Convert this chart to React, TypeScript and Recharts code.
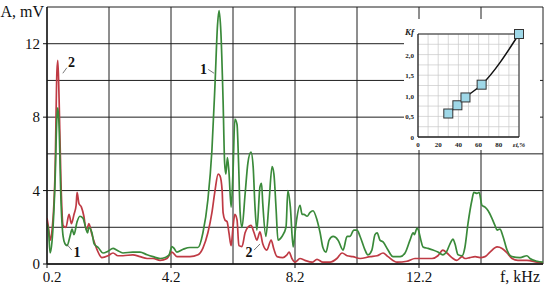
import { CartesianGrid, Line, LineChart, ReferenceDot, ReferenceLine, XAxis, YAxis } from "recharts";

// spectrum 1 (green) – frequency kHz / amplitude mV
const freqGreen = [
  0.2, 0.25, 0.3, 0.36, 0.46, 0.52, 0.55, 0.59, 0.65, 0.72,
  0.78, 0.85, 0.94, 1.01, 1.07, 1.17, 1.26, 1.36, 1.46, 1.51,
  1.55, 1.65, 1.72, 1.85, 2.01, 2.17, 2.33, 2.46, 2.65, 2.97,
  3.2, 3.43, 3.62, 3.85, 4.01, 4.14, 4.23, 4.3, 4.39, 4.59,
  4.81, 5.07, 5.23, 5.39, 5.52, 5.62, 5.7, 5.75, 5.81, 5.88,
  5.93, 5.97, 6.02, 6.07, 6.14, 6.2, 6.26, 6.33, 6.38, 6.43,
  6.49, 6.59, 6.68, 6.78, 6.85, 6.91, 6.97, 7.07, 7.12, 7.16,
  7.26, 7.36, 7.46, 7.52, 7.59, 7.65, 7.78, 7.91, 7.97, 8.05,
  8.14, 8.2, 8.26, 8.36, 8.43, 8.49, 8.59, 8.68, 8.78, 8.91,
  9.01, 9.1, 9.2, 9.3, 9.43, 9.59, 9.75, 9.88, 9.97, 10.1,
  10.2, 10.3, 10.46, 10.55, 10.68, 10.78, 10.85, 10.94, 11.04, 11.2,
  11.36, 11.59, 11.75, 11.91, 12.01, 12.05, 12.14, 12.18, 12.26, 12.33,
  12.49, 12.65, 12.81, 12.97, 13.1, 13.2, 13.3, 13.36, 13.46, 13.59,
  13.68, 13.78, 13.91, 13.97, 14.07, 14.14, 14.23, 14.33, 14.43, 14.55,
  14.65, 14.72, 14.81, 14.91, 15.04, 15.2, 15.46, 15.68, 15.78, 16.01,
  16.2,
];
const ampGreen = [
  2.2, 1.8, 0.6, 1.2, 4.5, 8.0, 8.5, 7.5, 3.5, 1.5,
  1.1, 1.0, 1.5, 1.9, 1.6, 2.3, 2.6, 2.5, 1.9, 1.7,
  2.0, 1.7, 1.1, 0.9, 0.6, 0.7, 0.85, 0.75, 0.6, 0.65,
  0.65, 0.5, 0.4, 0.3, 0.35, 0.5, 0.95, 0.85, 0.65, 0.8,
  0.9, 0.9, 1.7, 3.5, 6.2, 9.8, 13.0, 13.8, 12.6, 8.9,
  5.5, 4.9, 5.8, 5.0, 3.1, 5.0, 7.9, 7.6, 5.5, 2.8,
  2.0, 3.8, 5.5, 6.1, 5.3, 3.1, 1.85, 4.2, 4.4, 3.3,
  1.5, 3.3, 5.3, 4.9, 3.0, 1.3, 1.5, 2.0, 4.0, 3.1,
  0.93, 1.7, 2.5, 3.2, 2.7, 2.7, 2.6, 2.8, 2.9, 2.4,
  1.7, 0.9, 0.65, 1.3, 1.5, 1.3, 0.76, 1.5, 1.5, 1.85,
  1.85, 1.5, 0.76, 0.5, 0.76, 1.6, 1.7, 1.3, 1.2, 0.76,
  0.4, 0.4, 0.6, 1.3, 1.7, 1.6, 1.96, 1.85, 1.3, 0.93,
  0.85, 0.76, 0.65, 0.5, 0.7, 1.1, 1.35, 1.1, 0.5, 0.45,
  0.9, 2.2, 3.5, 3.9, 3.85, 3.9, 3.2, 3.1, 2.9, 2.5,
  2.1, 1.85, 1.9, 1.5, 0.76, 0.4, 0.35, 0.45, 0.3, 0.15,
  0.1,
];

// spectrum 2 (red)
const freqRed = [
  0.2, 0.23, 0.31, 0.36, 0.46, 0.52, 0.55, 0.59, 0.65, 0.72,
  0.81, 0.91, 0.99, 1.07, 1.14, 1.17, 1.23, 1.31, 1.39, 1.46,
  1.51, 1.55, 1.65, 1.81, 1.97, 2.17, 2.33, 2.49, 2.65, 2.97,
  3.2, 3.43, 3.62, 3.85, 4.07, 4.23, 4.39, 4.81, 5.07, 5.23,
  5.39, 5.52, 5.62, 5.72, 5.78, 5.85, 5.88, 5.94, 6.01, 6.07,
  6.14, 6.2, 6.26, 6.33, 6.39, 6.49, 6.59, 6.68, 6.78, 6.88,
  6.97, 7.07, 7.16, 7.29, 7.43, 7.52, 7.62, 7.81, 7.94, 8.01,
  8.1, 8.2, 8.36, 8.52, 8.75, 8.91, 9.1, 9.33, 9.55, 9.72,
  9.88, 10.07, 10.3, 10.62, 10.85, 11.04, 11.2, 11.49, 11.81, 12.07,
  12.33, 12.62, 12.81, 12.97, 13.1, 13.26, 13.42, 13.59, 13.68, 13.84,
  14.01, 14.17, 14.33, 14.49, 14.72, 14.88, 15.04, 15.2, 15.39, 15.68,
  16.01, 16.2,
];
const ampRed = [
  2.5, 2.2, 1.3, 1.8, 5.0, 10.5, 11.1, 9.0, 4.5, 2.1,
  2.0, 2.7, 2.2, 2.7, 3.2, 3.9, 3.3, 3.1, 2.6, 1.9,
  2.0, 2.2, 1.6, 0.8, 0.35, 0.45, 0.6, 0.45, 0.45, 0.5,
  0.4, 0.3, 0.3, 0.2, 0.3, 0.65, 0.4, 0.4, 0.5, 0.87,
  1.7, 2.8, 4.0, 4.9, 4.8, 4.0, 2.8, 2.4, 2.3, 1.7,
  1.0, 2.0, 2.7, 2.4, 1.0, 0.95, 1.7, 2.0, 2.1, 1.7,
  1.3, 1.75, 1.1, 0.76, 1.3, 0.8, 0.4, 0.35, 0.5, 0.65,
  0.3, 0.1, 0.3, 0.2, 0.1, 0.25, 0.1, 0.1, 0.3, 0.6,
  0.45, 0.4, 0.3, 0.4, 0.45, 0.6, 0.4, 0.1, 0.15, 0.3,
  0.3, 0.3, 0.45, 0.76, 0.6, 0.35, 0.2, 0.4, 0.3, 0.35,
  0.4, 0.35, 0.4, 0.65, 0.93, 0.85, 0.6, 0.3, 0.2, 0.2,
  0.1, 0.05,
];

const xTicks = [0.2, 2.2, 4.2, 6.2, 8.2, 10.2, 12.2, 14.2, 16.2];
const xTickLabels = ["0.2", "", "4.2", "", "8.2", "", "12.2", "", "f, kHz"];
const yTicks = [0, 2, 4, 6, 8, 10, 12, 14];
const yTickLabels = ["0", "", "4", "", "8", "", "12", "A, mV"];

// curve numbers with their leader lines
const noteText = ["2", "1", "1", "2"];
const noteF = [0.99, 1.17, 5.25, 6.72];
const noteA = [11.0, 0.63, 10.62, 0.65];
const leaderF1 = [0.71, 0.84, 5.4, 6.88];
const leaderA1 = [10.39, 1.07, 10.6, 0.76];
const leaderF2 = [0.84, 1.0, 5.59, 7.07];
const leaderA2 = [10.69, 0.76, 10.39, 1.09];

// inset: Kf vs εi
const insetE = [30, 39, 47, 63, 100];
const insetK = [0.57, 0.77, 0.96, 1.27, 2.5];
const insetXTicks = [0, 10, 20, 30, 40, 50, 60, 70, 80, 90, 100];
const insetXLabels = ["0", "", "20", "", "40", "", "60", "", "80", "", "εi,%"];
const insetYTicks = [0, 0.25, 0.5, 0.75, 1, 1.25, 1.5, 1.75, 2, 2.25, 2.5];
const insetYLabels = ["0", "", "0,5", "", "1,0", "", "1,5", "", "2,0", "", "Kf"];

const green = freqGreen.map((f, i) => ({ f, a: ampGreen[i] }));
const red = freqRed.map((f, i) => ({ f, a: ampRed[i] }));
const inset = insetE.map((e, i) => ({ e, k: insetK[i] }));

const SERIF = "'Liberation Serif', 'DejaVu Serif', serif";

function MainXTick(props: any) {
  const { x, y, payload } = props;
  const i = xTicks.indexOf(payload.value);
  const label = xTickLabels[i];
  if (!label) return null;
  if (i === xTicks.length - 1) {
    return (
      <text x={x - 23} y={y + 18} textAnchor="middle" fontFamily={SERIF} fontSize={16} fill="#111">
        {label}
      </text>
    );
  }
  // first label sits a little right of the axis corner
  const dx = i === 0 ? 5 : 0;
  return (
    <g>
      <line x1={x} y1={y} x2={x} y2={y + 4} stroke="#111" />
      <text x={x + dx} y={y + 18} textAnchor="middle" fontFamily={SERIF} fontSize={15} fill="#111">
        {label}
      </text>
    </g>
  );
}

function MainYTick(props: any) {
  const { x, y, payload } = props;
  const i = yTicks.indexOf(payload.value);
  const label = yTickLabels[i];
  if (!label) return null;
  if (i === yTicks.length - 1) {
    return (
      <text x={x - 3} y={y + 10} textAnchor="end" fontFamily={SERIF} fontSize={16} fill="#111">
        {label}
      </text>
    );
  }
  return (
    <g>
      <line x1={x - 4} y1={y} x2={x} y2={y} stroke="#111" />
      <text x={x - 7} y={y + 5} textAnchor="end" fontFamily={SERIF} fontSize={15} fill="#111">
        {label}
      </text>
    </g>
  );
}

function InsetXTick(props: any) {
  const { x, y, payload } = props;
  const i = insetXTicks.indexOf(payload.value);
  const label = insetXLabels[i];
  if (!label) return null;
  const last = i === insetXTicks.length - 1;
  return (
    <text
      x={x}
      y={y + 10}
      textAnchor="middle"
      fontFamily={SERIF}
      fontSize={7}
      fontWeight="bold"
      fontStyle={last ? "italic" : "normal"}
      fill="#222"
    >
      {label}
    </text>
  );
}

function InsetYTick(props: any) {
  const { x, y, payload } = props;
  const i = insetYTicks.indexOf(payload.value);
  const label = insetYLabels[i];
  if (!label) return null;
  const last = i === insetYTicks.length - 1;
  return (
    <text
      x={x - 4}
      y={last ? y + 1 : y + 3}
      textAnchor="end"
      fontFamily={SERIF}
      fontSize={last ? 9 : 7}
      fontWeight="bold"
      fontStyle={last ? "italic" : "normal"}
      fill="#222"
    >
      {label}
    </text>
  );
}

function SquareDot(props: any) {
  const { cx, cy } = props;
  return <rect x={cx - 4.5} y={cy - 4.5} width={9} height={9} fill="#9fd8e8" stroke="#333" strokeWidth={1} />;
}

export default function App() {
  return (
    <div style={{ position: "relative", width: 550, height: 288, background: "#fff", fontFamily: SERIF }}>
      <style>{"body{margin:0}"}</style>
      <LineChart width={550} height={288} margin={{ top: 7, right: 7, bottom: 0, left: 0 }}>
        <CartesianGrid stroke="#1e1e1e" strokeWidth={1} />
        <XAxis
          type="number"
          dataKey="f"
          domain={[0.2, 16.2]}
          ticks={xTicks}
          interval={0}
          tick={<MainXTick />}
          tickLine={false}
          tickSize={0}
          tickMargin={0}
          height={24}
          axisLine={{ stroke: "#111", strokeWidth: 1.3 }}
          allowDataOverflow
        />
        <YAxis
          type="number"
          domain={[0, 14]}
          ticks={yTicks}
          interval={0}
          tick={<MainYTick />}
          tickLine={false}
          tickSize={0}
          tickMargin={0}
          width={47}
          axisLine={{ stroke: "#111", strokeWidth: 1.3 }}
          allowDataOverflow
        />
        <Line data={red} dataKey="a" type="monotone" stroke="#bf3a44" strokeWidth={1.7} dot={false} isAnimationActive={false} />
        <Line data={green} dataKey="a" type="monotone" stroke="#3a8a3a" strokeWidth={1.7} dot={false} isAnimationActive={false} />
        {noteText.map((t, i) => (
          <ReferenceLine
            key={`l${i}`}
            segment={[
              { x: leaderF1[i], y: leaderA1[i] },
              { x: leaderF2[i], y: leaderA2[i] },
            ]}
            stroke="#555"
            strokeWidth={0.8}
          />
        ))}
        {noteText.map((t, i) => (
          <ReferenceDot
            key={`n${i}`}
            x={noteF[i]}
            y={noteA[i]}
            r={0}
            shape={(p: any) => (
              <text
                x={p.cx}
                y={p.cy + 5}
                textAnchor="middle"
                fontFamily={SERIF}
                fontSize={14}
                fontWeight="bold"
                fill="#111"
              >
                {t}
              </text>
            )}
          />
        ))}
      </LineChart>

      <div style={{ position: "absolute", left: 404, top: 19, width: 136, height: 131, background: "#fff" }}>
        <LineChart width={136} height={131} data={inset} margin={{ top: 15, right: 21, bottom: 0, left: 0 }}>
          <CartesianGrid stroke="#c8c8c8" strokeWidth={0.7} />
          <XAxis
            type="number"
            dataKey="e"
            domain={[0, 100]}
            ticks={insetXTicks}
            interval={0}
            tick={<InsetXTick />}
            tickLine={false}
            tickSize={0}
            tickMargin={0}
            height={13}
            axisLine={{ stroke: "#222", strokeWidth: 1.3 }}
          />
          <YAxis
            type="number"
            domain={[0, 2.5]}
            ticks={insetYTicks}
            interval={0}
            tick={<InsetYTick />}
            tickLine={false}
            tickSize={0}
            tickMargin={0}
            width={14}
            axisLine={{ stroke: "#222", strokeWidth: 1.3 }}
          />
          <ReferenceLine y={2.5} stroke="#222" strokeWidth={1} />
          <ReferenceLine x={100} stroke="#222" strokeWidth={1} />
          <Line dataKey="k" type="monotone" stroke="#111" strokeWidth={1.5} dot={<SquareDot />} isAnimationActive={false} />
        </LineChart>
      </div>
    </div>
  );
}
